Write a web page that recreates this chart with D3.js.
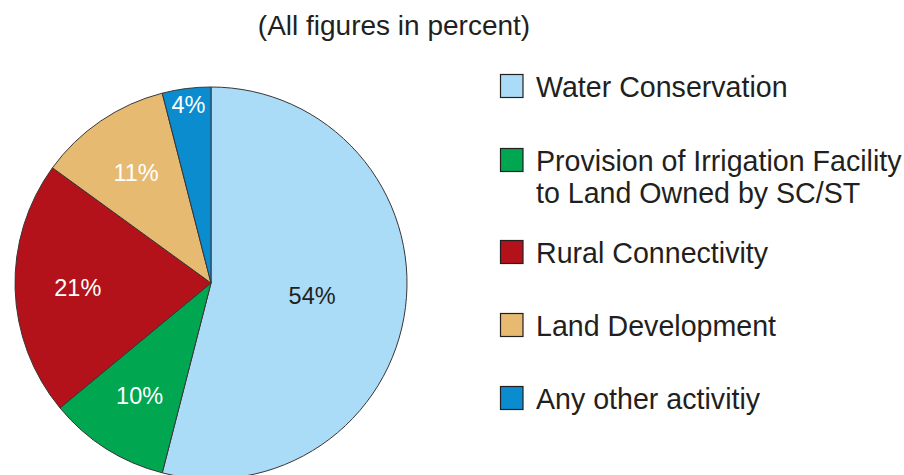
<!DOCTYPE html>
<html>
<head>
<meta charset="utf-8">
<script src="https://cdn.jsdelivr.net/npm/d3@7/dist/d3.min.js"></script>
<style>
  html, body { margin: 0; padding: 0; background: #ffffff; }
  svg { display: block; }
  text { font-family: "Liberation Sans", Arial, Helvetica, sans-serif; }
</style>
</head>
<body>
<svg id="chart" width="904" height="475"></svg>
<script>
// Share of works by category, in percent
const categories = [
  "Water Conservation",
  "Provision of Irrigation Facility to Land Owned by SC/ST",
  "Rural Connectivity",
  "Land Development",
  "Any other activitiy"
];
const shares = [54, 10, 21, 11, 4];
const legendLines = [
  ["Water Conservation"],
  ["Provision of Irrigation Facility", "to Land Owned by SC/ST"],
  ["Rural Connectivity"],
  ["Land Development"],
  ["Any other activitiy"]
];
const sliceColors = ["#aadcf7", "#00a650", "#b3121a", "#e6ba70", "#0a8ccf"];
const labelColors = ["#231f20", "#ffffff", "#ffffff", "#ffffff", "#ffffff"];
const title = "(All figures in percent)";

const svg = d3.select("#chart");
const cx = 211, cy = 283, radius = 196;

svg.append("text")
  .attr("x", 394).attr("y", 35)
  .attr("text-anchor", "middle")
  .attr("font-size", 28)
  .attr("fill", "#231f20")
  .text(title);

const data = categories.map((c, i) => ({ name: c, value: shares[i], i }));

const pie = d3.pie().value(d => d.value).sort(null);
const arcs = pie(data);
const arc = d3.arc().innerRadius(0).outerRadius(radius);

const g = svg.append("g").attr("transform", `translate(${cx},${cy})`);

g.selectAll("path.slice")
  .data(arcs)
  .join("path")
  .attr("class", "slice")
  .attr("d", arc)
  .attr("fill", d => sliceColors[d.data.i])
  .attr("stroke", "#3a3536")
  .attr("stroke-width", 1);

// Labels: large slice near its middle, thin slice near the rim
function labelRadius(d) {
  const frac = d.data.value / 100;
  if (frac > 0.5) return radius * 0.52;
  if (frac < 0.06) return radius * 0.92;
  return radius * 0.68;
}

g.selectAll("text.pct")
  .data(arcs)
  .join("text")
  .attr("class", "pct")
  .attr("transform", d => {
    const r = labelRadius(d);
    const [x, y] = d3.arc().innerRadius(r).outerRadius(r).centroid(d);
    return `translate(${x},${y})`;
  })
  .attr("text-anchor", "middle")
  .attr("dy", "0.36em")
  .attr("font-size", 23.5)
  .attr("fill", d => labelColors[d.data.i])
  .text(d => d.data.value + "%");

// Legend
const swatchY = [86, 160, 252, 325, 398];

const legend = svg.append("g");
const items = legend.selectAll("g.item")
  .data(data)
  .join("g")
  .attr("class", "item")
  .attr("transform", d => `translate(500,${swatchY[d.i]})`);

items.append("rect")
  .attr("x", 0.5).attr("y", -11.5)
  .attr("width", 22.5).attr("height", 23)
  .attr("fill", d => sliceColors[d.i])
  .attr("stroke", "#231f20")
  .attr("stroke-width", 1.2);

items.each(function(d) {
  const lines = legendLines[d.i];
  const t = d3.select(this).append("text")
    .attr("font-size", 28.6)
    .attr("fill", "#231f20");
  lines.forEach((ln, k) => {
    t.append("tspan")
      .attr("x", 36)
      .attr("y", k * 32.5 + 10.5)
      .text(ln);
  });
});
</script>
</body>
</html>
